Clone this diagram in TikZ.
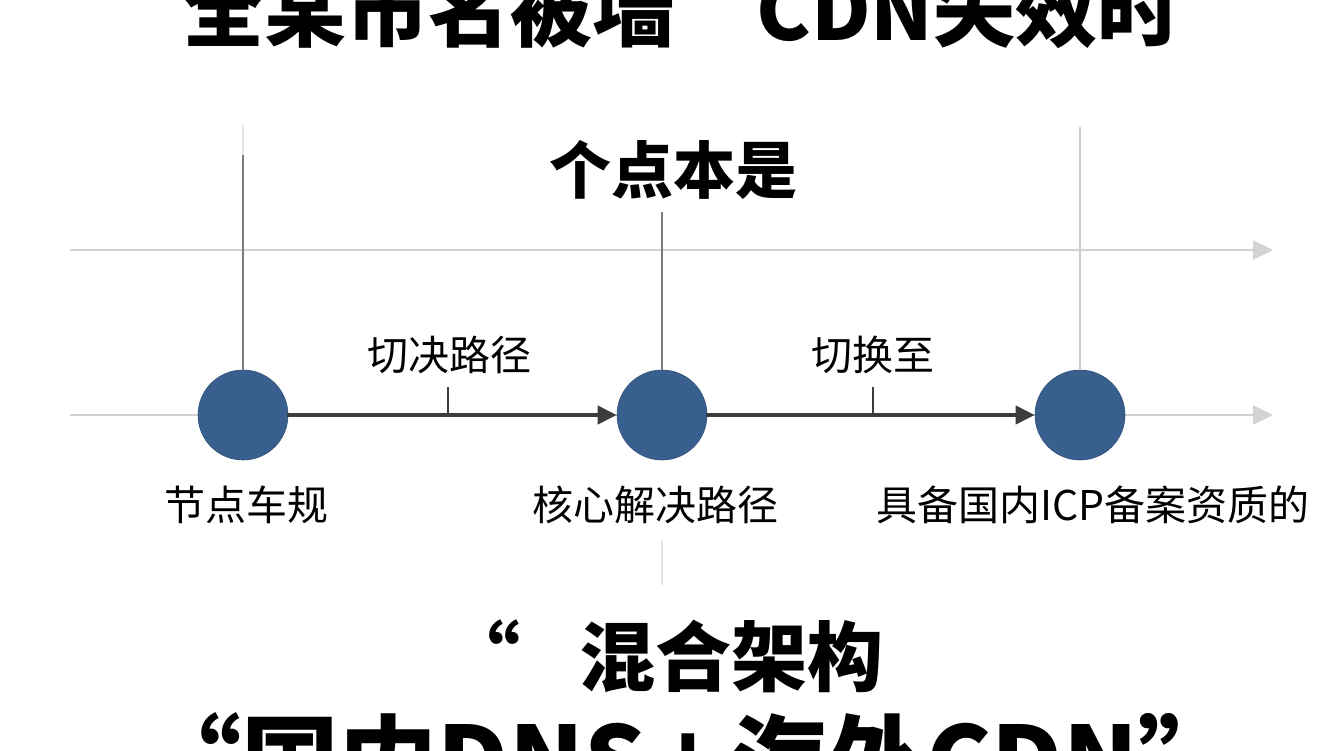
\documentclass[tikz,border=0pt]{standalone}
\usepackage{fontspec}
\setmainfont{Noto Sans CJK SC}
\usetikzlibrary{arrows.meta}
\definecolor{nodeblue}{HTML}{385F8E}
\definecolor{axisgray}{HTML}{D3D3D3}
\definecolor{flowgray}{HTML}{3C3C3C}
\definecolor{vdark}{HTML}{7C7C7C}
\definecolor{vlight}{HTML}{CDCDCD}
\definecolor{vfaint}{HTML}{E6E6E6}
\begin{document}
\begin{tikzpicture}[x=1pt,y=-1pt,
  axis/.style={draw=axisgray, line width=2.5pt, -{Triangle[length=20pt,width=19pt]}},
  flow/.style={draw=flowgray, line width=4pt, -{Triangle[length=19pt,width=18pt]}, shorten <=-1pt},
  tickline/.style={draw=flowgray, line width=1.2pt},
  vline/.style={line width=2pt},
  dot/.style={circle, fill=nodeblue, draw=nodeblue!85!black, line width=0.6pt, minimum size=90pt, inner sep=0pt},
  lbl/.style={font=\fontsize{41}{41}\selectfont, anchor=base, inner sep=0pt, text=black},
  bigtitle/.style={font=\fontsize{82}{82}\selectfont\bfseries, anchor=base, inner sep=0pt, text=black},
  midtitle/.style={font=\fontsize{62}{62}\selectfont\bfseries, anchor=base, inner sep=0pt, text=black},
  bottitle/.style={font=\fontsize{76}{76}\selectfont\bfseries, anchor=base, inner sep=0pt, text=black},
  lasttitle/.style={font=\fontsize{98}{98}\selectfont\bfseries, anchor=base, inner sep=0pt, text=black}]
\useasboundingbox[fill=white] (0,0) rectangle (1344,750);

% axes
\coordinate (a1s) at (70,250);
\coordinate (a1e) at (1273,250);
\coordinate (a2s) at (70,415);
\coordinate (a2e) at (1273,415);
\draw[axis] (a1s) -- (a1e);
\draw[axis] (a2s) -- (a2e);

% vertical guide lines
\coordinate (v1f) at (243,125);
\coordinate (v1t) at (243,155);
\coordinate (v2t) at (662,212);
\coordinate (v3t) at (1080,127);
\coordinate (v2bs) at (662,540);
\coordinate (v2be) at (662,585);

% nodes
\node[dot] (c1) at (243,415) {};
\node[dot] (c2) at (662,415) {};
\node[dot] (c3) at (1080,415) {};

\draw[vline, draw=vfaint] (v1f) -- (v1t);
\draw[vline, draw=vdark] (v1t) -- (c1.north);
\draw[vline, draw=vdark] (v2t) -- (c2.north);
\draw[vline, draw=vlight] (v3t) -- (c3.north);
\draw[vline, draw=vfaint] (v2bs) -- (v2be);

% flow arrows
\draw[flow] (c1) -- (c2);
\draw[flow] (c2) -- (c3);

% ticks
\coordinate (t1) at (448,387);
\coordinate (t2) at (873,387);
\draw[tickline] (t1) -- (t1 |- c1);
\draw[tickline] (t2) -- (t2 |- c2);

% labels
\node[lbl] (l1) at (449,370) {切决路径};
\node[lbl] (l2) at (873,370) {切换至};
\node[lbl] (n1) at (246,520) {节点车规};
\node[lbl] (n2) at (655,520) {核心解决路径};
\node[lbl] (n3) at (1093,520) {具备国内ICP备案资质的};

% titles
\node[bigtitle] (title) at (681,40) {全某市名被墙　CDN失效时};
\node[midtitle] (sub) at (673,193) {个点本是};
\node[bottitle] (q1) at (482,685) {“};
\node[bottitle] (mix) at (731,685) {混合架构};
\node[lasttitle] (last) at (690,797) {“国内DNS\hspace{12pt}+\hspace{12pt}海外CDN”};
\end{tikzpicture}
\end{document}
